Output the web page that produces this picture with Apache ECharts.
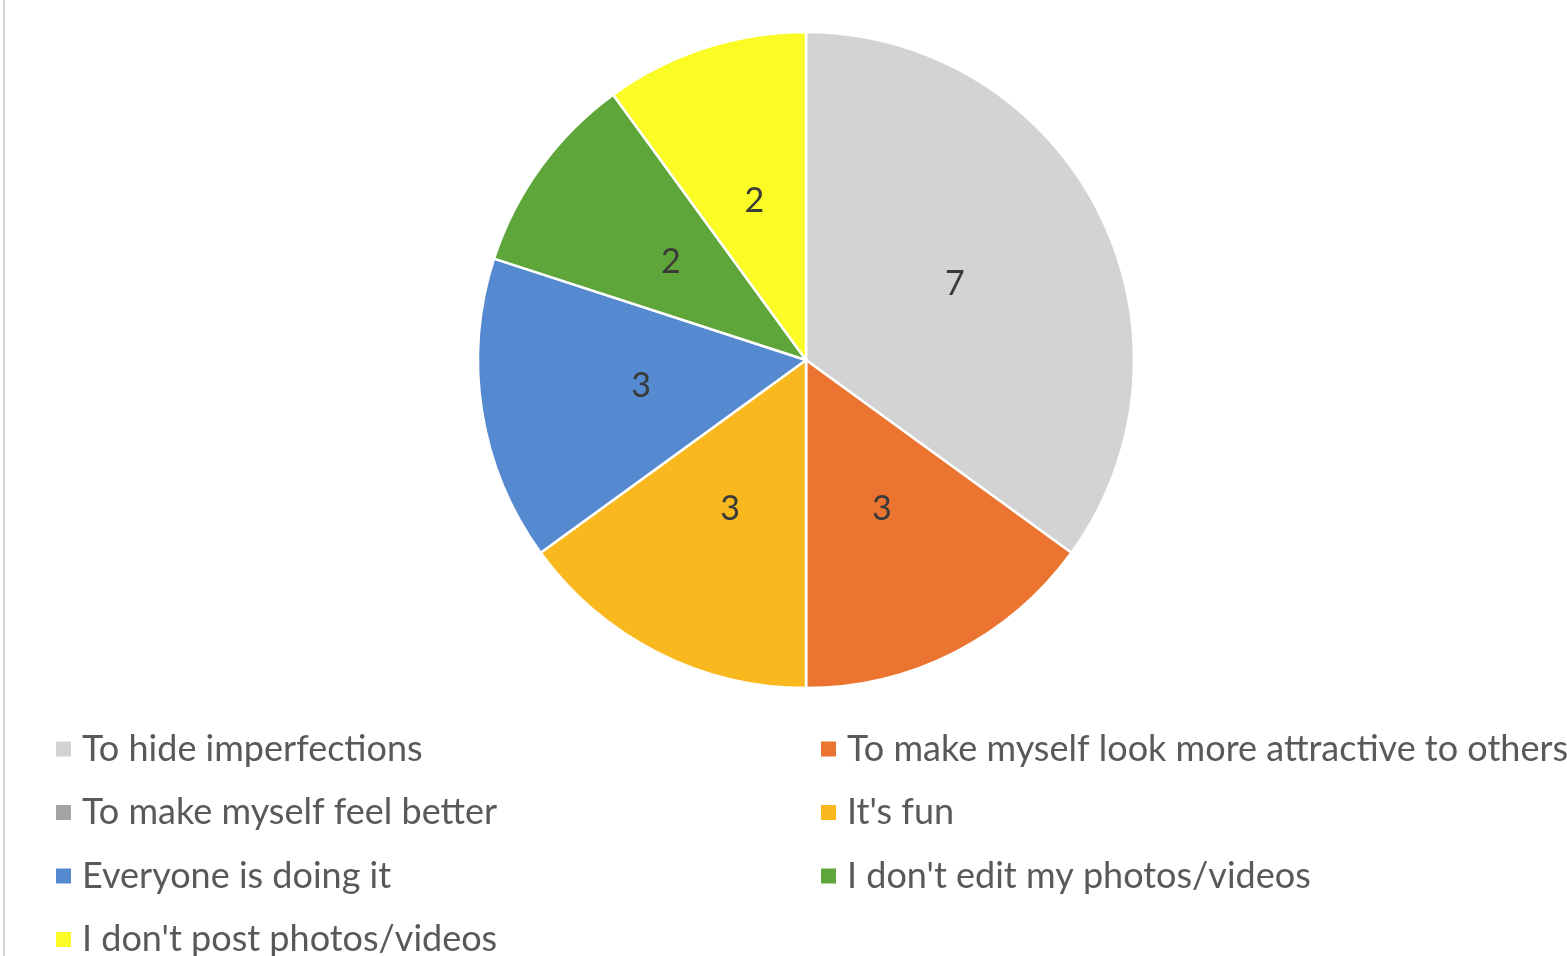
<!DOCTYPE html>
<html>
<head>
<meta charset="utf-8">
<title>Why do you edit your photos/videos?</title>
<script src="https://cdn.jsdelivr.net/npm/echarts@6/dist/echarts.min.js"></script>
<style>
  html, body { margin: 0; padding: 0; background: #ffffff; }
  #chart { width: 1567px; height: 956px; }
</style>
</head>
<body>
<div id="chart"></div>
<script>
// Survey answers and their counts
const categories = [
  'To hide imperfections',
  'To make myself look more attractive to others',
  'To make myself feel better',
  "It's fun",
  'Everyone is doing it',
  "I don't edit my photos/videos",
  "I don't post photos/videos"
];
const counts = [7, 3, 0, 3, 3, 2, 2];
const sliceColors = ['#d3d3d3', '#ea7430', '#a3a3a3', '#f9b91e', '#5589d0', '#5ea63a', '#fbfb26'];

// Legend split into two columns: left gets even positions, right gets odd
const leftColumn = categories.filter((_, i) => i % 2 === 0);
const rightColumn = categories.filter((_, i) => i % 2 === 1);

const fontFamily = 'Lato, "Liberation Sans", sans-serif';

const chart = echarts.init(document.getElementById('chart'));

const legendBase = {
  orient: 'vertical',
  top: 731,
  height: 260,
  padding: 0,
  itemWidth: 17,
  itemHeight: 17,
  itemGap: 27.5,
  icon: 'rect',
  selectedMode: false,
  textStyle: { fontFamily: fontFamily, fontSize: 36, color: '#595959', padding: [0, 0, 0, 5] }
};

chart.setOption({
  animation: false,
  color: sliceColors,
  graphic: [{
    type: 'rect',
    shape: { x: 3, y: 0, width: 2, height: 956 },
    style: { fill: '#d4d4d4' }
  }],
  legend: [
    Object.assign({}, legendBase, { left: 54, data: leftColumn }),
    Object.assign({}, legendBase, { left: 819, data: rightColumn })
  ],
  series: [{
    type: 'pie',
    center: [806, 360],
    radius: 328,
    startAngle: 90,
    clockwise: true,
    avoidLabelOverlap: false,
    itemStyle: { borderColor: '#ffffff', borderWidth: 2.5 },
    label: {
      position: 'inside',
      formatter: '{c}',
      fontFamily: fontFamily,
      fontSize: 34,
      color: '#3a3a3a'
    },
    labelLine: { show: false },
    emphasis: { disabled: true },
    data: categories.map((name, i) => ({
      name: name,
      value: counts[i],
      label: { show: counts[i] > 0 }
    }))
  }]
});
</script>
</body>
</html>
